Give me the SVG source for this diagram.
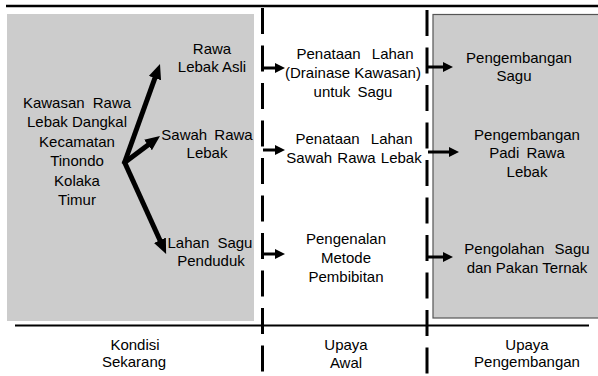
<svg xmlns="http://www.w3.org/2000/svg" width="598" height="376" viewBox="0 0 598 376">
<style>
text{font-family:"Liberation Sans",Arial,sans-serif;font-size:15px;fill:#000;text-anchor:middle}
.rule{stroke:#000;fill:none}
.dash{stroke:#000;stroke-width:3;stroke-dasharray:26 11.5;fill:none}
.big{stroke:#000;stroke-width:5;fill:none;marker-end:url(#bigHead)}
.small{stroke:#000;stroke-width:3;fill:none;marker-end:url(#smallHead)}
</style>
<defs>
<marker id="bigHead" markerUnits="userSpaceOnUse" markerWidth="16" markerHeight="14" refX="5" refY="6.5" orient="auto" viewBox="0 0 16 14">
<path d="M0,0 L15,6.5 L0,13 z" fill="#000"/>
</marker>
<marker id="smallHead" markerUnits="userSpaceOnUse" markerWidth="11" markerHeight="11" refX="3" refY="5" orient="auto" viewBox="0 0 11 11">
<path d="M0,0 L10,5 L0,10 z" fill="#000"/>
</marker>
</defs>
<rect width="598" height="376" fill="#fff"/>
<g id="panels">
<rect x="7" y="14" width="247" height="307" fill="#cccccc"/>
<rect x="433" y="14.5" width="170" height="303.5" fill="#cccccc" stroke="#555" stroke-width="1.2"/>
</g>
<g id="rules">
<line class="rule" x1="6" y1="6" x2="598" y2="6" stroke-width="2.6"/>
<line class="rule" x1="15" y1="325.5" x2="589" y2="325.5" stroke-width="2"/>
<line class="dash" x1="262.5" y1="8" x2="262.5" y2="376"/>
<line class="dash" x1="427" y1="10" x2="427" y2="376"/>
</g>
<g id="connectors">
<line class="big" x1="124" y1="164" x2="156.6" y2="73.4"/>
<line class="big" x1="124" y1="163" x2="152" y2="142"/>
<line class="big" x1="124" y1="161" x2="162" y2="244.8"/>
<line class="small" x1="263" y1="68" x2="278" y2="68"/>
<line class="small" x1="263" y1="150" x2="278" y2="150"/>
<line class="small" x1="263" y1="254" x2="278" y2="254"/>
<line class="small" x1="428" y1="67" x2="446" y2="67"/>
<line class="small" x1="428" y1="152" x2="452" y2="152"/>
<line class="small" x1="427" y1="257" x2="446" y2="257"/>
</g>
<g id="kawasan">
<text x="77" y="108" word-spacing="4">Kawasan Rawa</text>
<text x="77" y="127">Lebak Dangkal</text>
<text x="77" y="147">Kecamatan</text>
<text x="77" y="166">Tinondo</text>
<text x="77" y="186">Kolaka</text>
<text x="77" y="205">Timur</text>
</g>
<g id="rawa-lebak-asli">
<text x="212" y="54">Rawa</text>
<text x="212" y="72">Lebak Asli</text>
</g>
<g id="sawah-rawa-lebak">
<text x="207" y="140" word-spacing="3">Sawah Rawa</text>
<text x="207" y="158">Lebak</text>
</g>
<g id="lahan-sagu">
<text x="210" y="248" word-spacing="4">Lahan Sagu</text>
<text x="211" y="266">Penduduk</text>
</g>
<g id="penataan-drainase">
<text x="355" y="59" word-spacing="7">Penataan Lahan</text>
<text x="353" y="78">(Drainase Kawasan)</text>
<text x="353" y="97" word-spacing="3">untuk Sagu</text>
</g>
<g id="penataan-sawah">
<text x="354" y="144" word-spacing="7">Penataan Lahan</text>
<text x="354" y="163" word-spacing="1">Sawah Rawa Lebak</text>
</g>
<g id="pengenalan">
<text x="346" y="244">Pengenalan</text>
<text x="346" y="263">Metode</text>
<text x="346" y="282">Pembibitan</text>
</g>
<g id="pengembangan-sagu">
<text x="519" y="63">Pengembangan</text>
<text x="514" y="81">Sagu</text>
</g>
<g id="pengembangan-padi">
<text x="527" y="140">Pengembangan</text>
<text x="527" y="158" word-spacing="3">Padi Rawa</text>
<text x="527" y="177">Lebak</text>
</g>
<g id="pengolahan">
<text x="527" y="254" word-spacing="6">Pengolahan Sagu</text>
<text x="527" y="273">dan Pakan Ternak</text>
</g>
<g id="labels">
<text x="135" y="350">Kondisi</text>
<text x="134" y="367">Sekarang</text>
<text x="346" y="350">Upaya</text>
<text x="346" y="368">Awal</text>
<text x="527" y="350">Upaya</text>
<text x="527" y="367">Pengembangan</text>
</g>
</svg>
